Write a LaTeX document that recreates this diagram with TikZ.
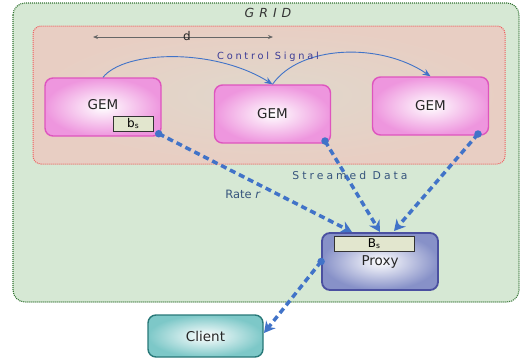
\documentclass[tikz,border=0pt]{standalone}
\usepackage{fontspec}
\setmainfont{DejaVu Sans}
\usetikzlibrary{arrows.meta,calc}

\definecolor{gridfill}{RGB}{214,232,212}
\definecolor{griddraw}{RGB}{50,115,50}
\definecolor{zonein}{RGB}{224,216,204}
\definecolor{zonefill}{RGB}{232,206,195}
\definecolor{zonedraw}{RGB}{238,95,95}
\definecolor{gemout}{RGB}{238,150,222}
\definecolor{gemdraw}{RGB}{222,85,190}
\definecolor{proxyout}{RGB}{135,145,200}
\definecolor{proxydraw}{RGB}{75,80,160}
\definecolor{clientout}{RGB}{125,200,200}
\definecolor{clientdraw}{RGB}{40,120,120}
\definecolor{flow}{RGB}{65,115,200}
\definecolor{bufffill}{RGB}{226,230,206}
\definecolor{labelblue}{RGB}{55,85,125}
\definecolor{ctrltext}{RGB}{60,60,150}

\begin{document}
\begin{tikzpicture}[x=1pt,y=-1pt,
  box/.style={rounded corners=8pt, line width=1.4pt, minimum width=116pt,
    minimum height=58pt, font=\fontsize{13.5}{15}\selectfont, text=black!85},
  gembox/.style={box, draw=gemdraw, inner color=white, outer color=gemout},
  buffer/.style={draw=black!80, line width=0.9pt, fill=bufffill,
    minimum height=15pt, inner sep=0pt, font=\fontsize{12}{13}\selectfont},
  stream/.style={draw=flow, line width=3.5pt, dash pattern=on 6pt off 4pt,
    -{Stealth[length=11pt,width=12pt,inset=3.5pt]}},
  ctrl/.style={draw=flow, line width=0.9pt, -{Stealth[length=8pt,width=6.5pt]}},
  dot/.style={circle, fill=flow, inner sep=0pt, minimum size=7.5pt},
  spaced/.style={font=\fontsize{#1}{12}\selectfont\addfontfeature{LetterSpace=28}},
]
\useasboundingbox (0,0) rectangle (520,360);

% grid and streaming zone
\draw[fill=gridfill, draw=griddraw, line width=1.1pt, dash pattern=on 1pt off 1pt,
  rounded corners=12pt] (13,3) rectangle (519,302);
\node[font=\fontsize{12.5}{14}\selectfont\itshape\addfontfeature{LetterSpace=40},
  text=black!80] (grid) at (268,13) {GRID};
\draw[inner color=zonein, outer color=zonefill, draw=zonedraw, line width=1pt,
  dash pattern=on 1pt off 1pt, rounded corners=8pt] (33,26) rectangle (505,164);

% distance marker
\coordinate (dl) at (93,37);
\coordinate (dr) at (273,37);
\draw[draw=black!60, line width=0.8pt, {Stealth[length=5pt,width=4pt]}-{Stealth[length=5pt,width=4pt]}] (dl) -- (dr);
\node[font=\fontsize{12}{13}\selectfont, text=black!85] (dlab) at (187,36) {d};

% GEMs
\node[gembox] (g1) at (103,107) {\raisebox{6pt}{GEM}};
\node[gembox] (g2) at (272.5,114) {GEM};
\node[gembox] (g3) at (430.5,106) {GEM};
\node[buffer, minimum width=40pt] (bs) at (133,123.5)
  {b{\fontsize{7.5}{8}\selectfont\raisebox{-1.5pt}{s}}};

% proxy and client
\node[box, draw=proxydraw, line width=1.8pt, inner color=white, outer color=proxyout,
  minimum height=57pt] (proxy) at (380,261.5) {};
\node[buffer, minimum width=80pt] (Bs) at (374,243.5)
  {B{\fontsize{7.5}{8}\selectfont\raisebox{-1.5pt}{s}}};
\node[font=\fontsize{13.5}{15}\selectfont, text=black!85] (plab) at (380,262) {Proxy};
\node[box, draw=clientdraw, inner color=white, outer color=clientout,
  minimum width=115pt, minimum height=42pt] (client) at (205.5,336) {Client};

% control signal
\draw[ctrl] (g1.north) .. controls (125,50) and (215,48) .. (g2.north);
\draw[ctrl] (g2.north) .. controls (300,45) and (380,42) .. (g3.north);
\node[spaced=9.8, text=ctrltext] (ctl) at (268,57) {Control Signal};

% streamed data
\coordinate (s1) at ($(g1.south east)+(-3,-3)$);
\coordinate (s2) at (325,141);
\coordinate (s3) at (478,134);
\coordinate (t1) at (352,232);
\coordinate (t2) at (380,232);
\coordinate (t3) at (394,231);
\coordinate (tc) at (264,333);
\draw[stream] (s1) -- (t1);
\draw[stream] (s2) -- (t2);
\draw[stream] (s3) -- (t3);
\draw[stream] (proxy.west) -- (tc);
\node[dot] (d1) at (s1) {};
\node[dot] (d2) at (s2) {};
\node[dot] (d3) at (s3) {};
\node[dot] (d4) at (proxy.west) {};
\node[spaced=10.8, text=labelblue] (sd) at (350,175) {Streamed Data};
\node[font=\fontsize{11.5}{12}\selectfont, text=labelblue] (rate) at (243,194) {Rate \textit{r}};
\end{tikzpicture}
\end{document}
